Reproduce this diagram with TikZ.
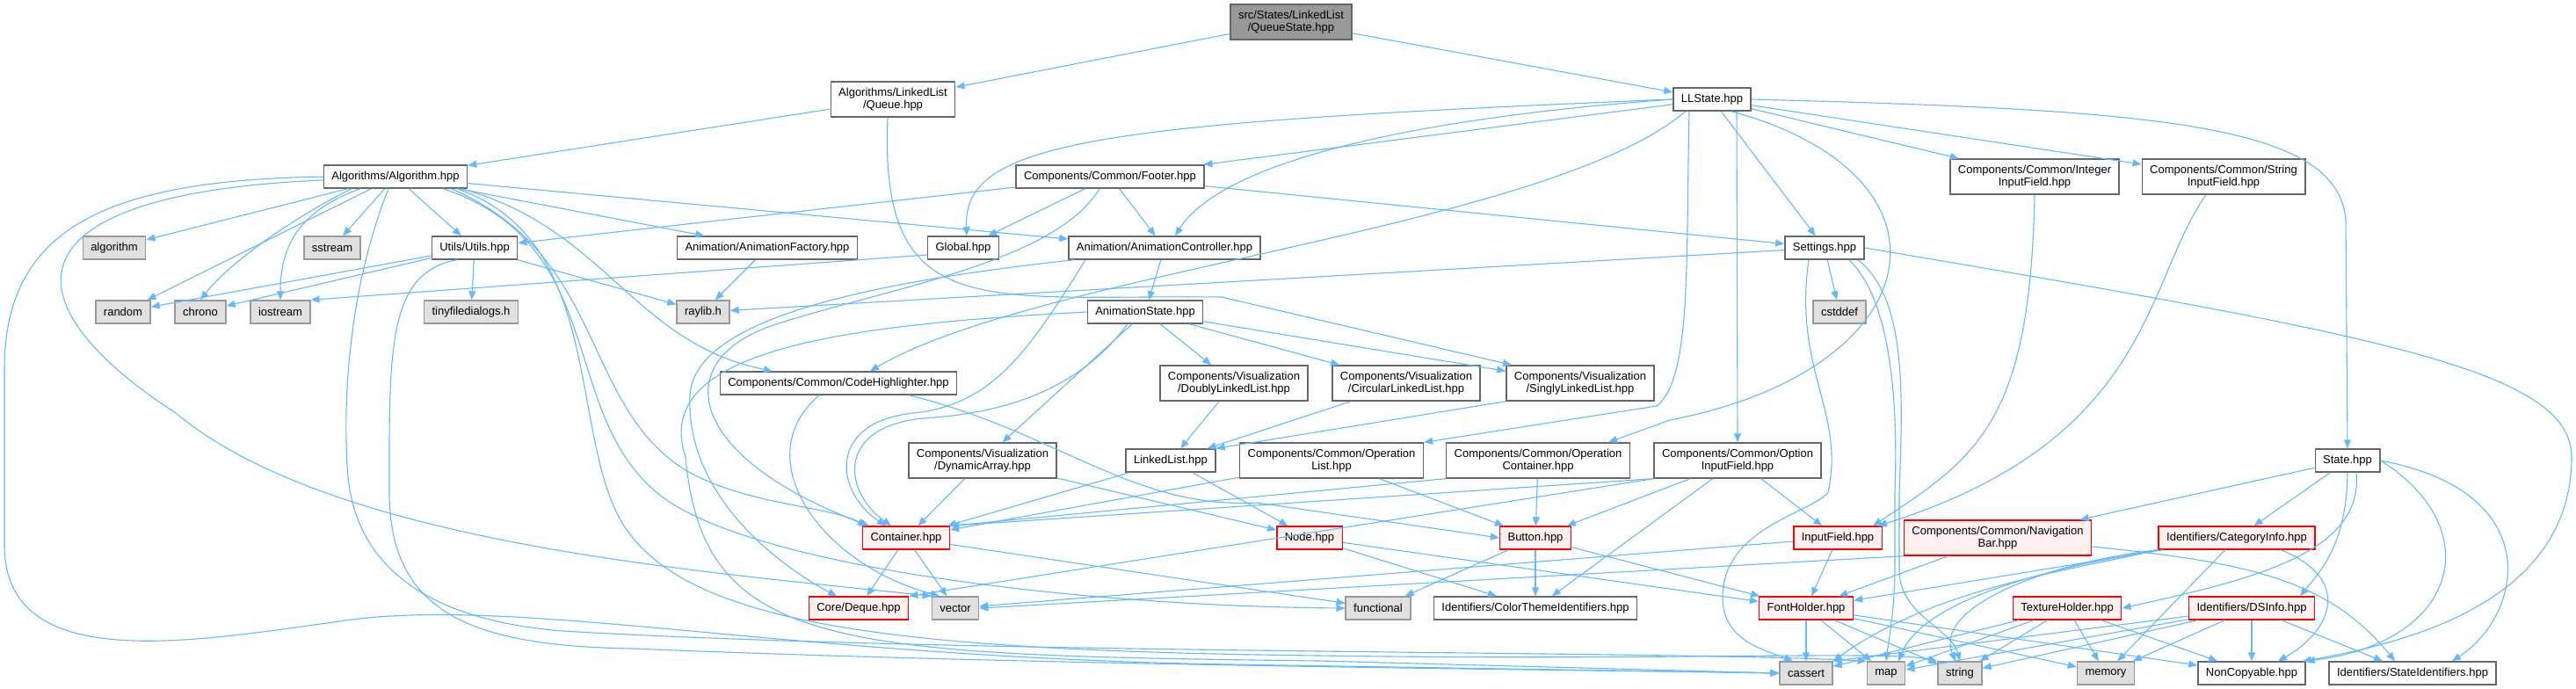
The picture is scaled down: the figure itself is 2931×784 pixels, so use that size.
\documentclass[tikz,border=0pt]{standalone}
\usepackage{fontspec}
\setmainfont{Liberation Sans}
\usetikzlibrary{calc,positioning}
\usetikzlibrary{arrows.meta}

\definecolor{edgeblue}{HTML}{63B8FF}
\definecolor{boxline}{HTML}{666666}
\definecolor{sysfill}{HTML}{E0E0E0}
\definecolor{sysline}{HTML}{999999}
\definecolor{rootfill}{HTML}{999999}
\definecolor{cutfill}{HTML}{FFF0F0}

\tikzset{
	hdr/.style={draw=boxline, line width=1.4pt, fill=white, inner xsep=9pt, inner ysep=3pt,
		minimum height=26pt, align=center, font=\fontsize{13}{14.5}\selectfont},
	syshdr/.style={hdr, draw=sysline, fill=sysfill},
	roothdr/.style={hdr, fill=rootfill},
	cuthdr/.style={hdr, draw=red, fill=cutfill},
	twoline/.style={minimum height=40pt},
	inc/.style={draw=edgeblue, line width=1.1pt, -{Triangle[length=10pt,width=8pt]}},
}

\begin{document}
\begin{tikzpicture}[x=1pt, y=-1pt]
				 \fill[white] (0,0) rectangle (2931,784);
				 \useasboundingbox (0,0) rectangle (2931,784);
				 % Drawing the nodes
				 \node[roothdr,twoline] (qs) at (1469,25) {src/States/LinkedList\\/QueueState.hpp};
				 \node[hdr,twoline] (queue) at (1016,113) {Algorithms/LinkedList\\/Queue.hpp};
				 \node[hdr] (llst) at (1948,113) {LLState.hpp};
				 \node[hdr] (algo) at (450,201) {Algorithms/Algorithm.hpp};
				 \node[hdr] (footer) at (1263,201) {Components/Common/Footer.hpp};
				 \node[hdr,twoline] (intif) at (2315,201) {Components/Common/Integer\\InputField.hpp};
				 \node[hdr,twoline] (strif) at (2530,201) {Components/Common/String\\InputField.hpp};
				 \node[syshdr] (algorithm) at (130,282) {algorithm};
				 \node[syshdr] (sstream) at (378,282) {sstream};
				 \node[hdr] (utils) at (540,282) {Utils/Utils.hpp};
				 \node[hdr] (animfac) at (873,282) {Animation/AnimationFactory.hpp};
				 \node[hdr] (global) at (1096,282) {Global.hpp};
				 \node[hdr] (animctrl) at (1325,282) {Animation/AnimationController.hpp};
				 \node[hdr] (settings) at (2076,282) {Settings.hpp};
				 \node[syshdr] (random) at (140,355) {random};
				 \node[syshdr] (chrono) at (228,355) {chrono};
				 \node[syshdr] (iostream) at (319,355) {iostream};
				 \node[syshdr] (tinyfd) at (536,355) {tinyfiledialogs.h};
				 \node[syshdr] (raylib) at (800,355) {raylib.h};
				 \node[syshdr] (cstddef) at (2093,355) {cstddef};
				 \node[hdr] (animstate) at (1303,355) {AnimationState.hpp};
				 \node[hdr] (codehl) at (954,436) {Components/Common/CodeHighlighter.hpp};
				 \node[hdr,twoline] (dll) at (1404,436) {Components/Visualization\\/DoublyLinkedList.hpp};
				 \node[hdr,twoline] (cll) at (1600,436) {Components/Visualization\\/CircularLinkedList.hpp};
				 \node[hdr,twoline] (sll) at (1798,436) {Components/Visualization\\/SinglyLinkedList.hpp};
				 \node[hdr,twoline] (dynarr) at (1118,524) {Components/Visualization\\/DynamicArray.hpp};
				 \node[hdr] (llist) at (1332,524) {LinkedList.hpp};
				 \node[hdr,twoline] (oplist) at (1515,524) {Components/Common/Operation\\List.hpp};
				 \node[hdr,twoline] (opcont) at (1750,524) {Components/Common/Operation\\Container.hpp};
				 \node[hdr,twoline] (optif) at (1977,524) {Components/Common/Option\\InputField.hpp};
				 \node[hdr] (state) at (2671,524) {State.hpp};
				 \node[cuthdr] (container) at (1031,612) {Container.hpp};
				 \node[cuthdr] (nodehpp) at (1490,612) {Node.hpp};
				 \node[cuthdr] (button) at (1747,612) {Button.hpp};
				 \node[cuthdr] (inputf) at (2091,612) {InputField.hpp};
				 \node[cuthdr,twoline] (navbar) at (2273,612) {Components/Common/Navigation\\Bar.hpp};
				 \node[cuthdr] (catinfo) at (2545,612) {Identifiers/CategoryInfo.hpp};
				 \node[cuthdr] (deque) at (977,692) {Core/Deque.hpp};
				 \node[syshdr] (vector) at (1087,692) {vector};
				 \node[syshdr] (functional) at (1568,692) {functional};
				 \node[hdr] (colors) at (1747,692) {Identifiers/ColorThemeIdentifiers.hpp};
				 \node[cuthdr] (fonts) at (2055,692) {FontHolder.hpp};
				 \node[cuthdr] (textures) at (2352,692) {TextureHolder.hpp};
				 \node[cuthdr] (dsinfo) at (2562,692) {Identifiers/DSInfo.hpp};
				 \node[syshdr] (cassert) at (2055,766) {cassert};
				 \node[syshdr] (map) at (2146,766) {map};
				 \node[syshdr] (string) at (2230,766) {string};
				 \node[syshdr] (memory) at (2396,766) {memory};
				 \node[hdr] (noncopy) at (2562,766) {NonCopyable.hpp};
				 \node[hdr] (stateids) at (2745,766) {Identifiers/StateIdentifiers.hpp};
				 % lines...
				 \draw[inc] (qs) -- (queue);
				 \draw[inc] (qs) -- (llst);
				 \draw[inc] (queue) -- (algo);
				 \draw[inc] ([xshift=-6pt]queue.south) .. controls (1000,370) and (1120,335) .. (1390,338) -- ([xshift=-78pt]sll.north);
				 % LLState
				 \draw[inc] (llst) -- (footer);
				 \draw[inc] (llst.west) .. controls (1250,140) and (1095,160) .. ([xshift=4pt]global.north);
				 \draw[inc] (llst.west) .. controls (1600,135) and (1390,185) .. ([xshift=12pt]animctrl.north);
				 \draw[inc] ([xshift=-30pt]llst.south) .. controls (1760,260) and (1180,310) .. ([xshift=36pt]codehl.north);
				 \draw[inc] (llst) -- (settings);
				 \draw[inc] (llst) -- (intif);
				 \draw[inc] (llst) -- (strif);
				 \draw[inc] (llst.east) .. controls (2450,125) and (2660,140) .. (2669,250) -- (state.north);
				 \draw[inc] ([xshift=-26pt]llst.south) .. controls (1918,300) and (1925,430) .. (1885,462) -- (oplist.north east);
				 \draw[inc] ([xshift=22pt]llst.south) .. controls (2240,200) and (2200,420) .. (1900,478) -- ([xshift=80pt]opcont.north);
				 \draw[inc] ([xshift=28pt]llst.south) -- (optif.north);
				 % Footer
				 \draw[inc] (footer) -- (utils);
				 \draw[inc] (footer) -- (global);
				 \draw[inc] (footer) -- (animctrl);
				 \draw[inc] (footer) -- (settings);
				 \draw[inc] ([xshift=-12pt]footer.south) .. controls (1200,300) and (1000,330) .. (880,370) .. controls (760,410) and (780,520) .. ([xshift=-42pt]container.north);
				 % Algorithm
				 \draw[inc] (algo) -- (algorithm);
				 \draw[inc] (algo) -- (sstream);
				 \draw[inc] (algo) -- (utils);
				 \draw[inc] (algo) -- (animfac);
				 \draw[inc] (algo) -- (random);
				 \draw[inc] ([xshift=-50pt]algo.south) .. controls (330,250) and (260,300) .. (chrono.north);
				 \draw[inc] ([xshift=-40pt]algo.south) .. controls (340,240) and (319,280) .. (iostream.north);
				 \draw[inc] (algo) -- (animctrl);
				 \draw[inc] ([xshift=75pt]algo.south) .. controls (690,260) and (720,390) .. ([xshift=-75pt]codehl.north);
				 \draw[inc] (algo.west) .. controls (120,205) and (5,260) .. (5,420) -- (5,620) .. controls (5,770) and (220,730) .. (400,705) .. controls (600,680) and (900,748) .. (1400,756) -- (cassert.west);
				 \draw[inc] ([yshift=-4pt]algo.west) .. controls (10,220) and (0,340) .. (200,470) .. controls (380,620) and (800,650) .. (vector.north west);
				 \draw[inc] ([xshift=63pt]algo.south) .. controls (690,290) and (660,460) .. (780,535) .. controls (850,575) and (940,575) .. ([xshift=-45pt]container.north);
				 \draw[inc] ([xshift=54pt]algo.south) .. controls (700,280) and (630,480) .. (760,570) .. controls (880,650) and (1250,690) .. (functional.west);
				 \draw[inc] ([xshift=-8pt]algo.south) .. controls (400,320) and (390,440) .. (395,530) .. controls (400,640) and (480,705) .. (640,718) .. controls (1100,745) and (1900,740) .. (map.north west);
				 \draw[inc] ([xshift=70pt]algo.south) .. controls (680,270) and (650,470) .. (700,580) .. controls (760,710) and (1000,740) .. (1500,746) .. controls (1900,752) and (2150,740) .. (string.north west);
				 % Utils and friends
				 \draw[inc] (utils) -- (random);
				 \draw[inc] (utils) -- (chrono);
				 \draw[inc] (utils) -- (tinyfd);
				 \draw[inc] (utils) -- (raylib);
				 \draw[inc] ([xshift=-20pt]utils.south) .. controls (440,310) and (443,400) .. (443,560) .. controls (443,700) and (540,735) .. (720,738) .. controls (1200,758) and (1800,762) .. (cassert.west);
				 \draw[inc] (animfac) -- (raylib);
				 \draw[inc] ([yshift=-8pt]global.west) -- (iostream.north east);
				 % Animation
				 \draw[inc] (animctrl) -- (animstate);
				 \draw[inc] ([xshift=-90pt]animctrl.south) .. controls (1170,400) and (1130,460) .. (1040,470) .. controls (940,480) and (950,560) .. ([xshift=-23pt]container.north);
				 \draw[inc] ([xshift=-103pt]animctrl.south) .. controls (1000,320) and (790,360) .. (785,450) .. controls (780,560) and (880,640) .. ([xshift=-25pt]deque.north);
				 \draw[inc] (animstate) -- (dll);
				 \draw[inc] (animstate) -- (cll);
				 \draw[inc] (animstate) -- (sll);
				 \draw[inc] (animstate) -- (dynarr);
				 \draw[inc] ([xshift=-20pt]animstate.south) .. controls (1230,440) and (1150,470) .. (1050,476) .. controls (950,486) and (960,560) .. ([xshift=-17pt]container.north);
				 \draw[inc] (animstate.west) .. controls (950,370) and (740,400) .. (780,520) .. controls (800,740) and (950,745) .. (1500,752) -- (cassert.west);
				 % Components
				 \draw[inc] ([xshift=-22pt]codehl.south) .. controls (850,520) and (930,640) .. ([xshift=-18pt]vector.north);
				 \draw[inc] ([xshift=80pt]codehl.south) .. controls (1200,490) and (1290,580) .. (1430,572) -- (button.west);
				 \draw[inc] (dll) -- (llist);
				 \draw[inc] (cll) -- (llist);
				 \draw[inc] (sll.south west) -- (llist.north east);
				 \draw[inc] (dynarr) -- (container);
				 \draw[inc] (dynarr) -- (nodehpp);
				 \draw[inc] (llist) -- (container);
				 \draw[inc] (llist) -- (nodehpp);
				 \draw[inc] (oplist) -- (container);
				 \draw[inc] (oplist) -- (button);
				 \draw[inc] (opcont.south west) -- (container.north east);
				 \draw[inc] (opcont) -- (button);
				 \draw[inc] (optif.south west) -- (container.north east);
				 \draw[inc] (optif.south west) -- (deque.north east);
				 \draw[inc] (optif) -- (button);
				 \draw[inc] (optif) -- (colors);
				 \draw[inc] (optif) -- (inputf);
				 \draw[inc] (intif.south) .. controls (2310,480) and (2250,520) .. ([xshift=40pt]inputf.north);
				 \draw[inc] ([xshift=-20pt]strif.south) .. controls (2440,320) and (2450,500) .. ([xshift=46pt]inputf.north);
				 % red ones
				 \draw[inc] (container) -- (deque);
				 \draw[inc] (container) -- (vector);
				 \draw[inc] (container) -- (functional);
				 \draw[inc] (nodehpp) -- (colors);
				 \draw[inc] (nodehpp) -- (fonts);
				 \draw[inc] (button) -- (functional);
				 \draw[inc] (button) -- (colors);
				 \draw[inc] (button) -- (fonts);
				 \draw[inc] (inputf) -- (fonts);
				 \draw[inc] (inputf) -- (vector);
				 \draw[inc] (navbar.south west) -- (vector.east);
				 \draw[inc] (navbar) -- (fonts);
				 \draw[inc] ([yshift=-10pt]navbar.east) .. controls (2560,640) and (2650,660) .. ([xshift=-20pt]stateids.north);
				 % State
				 \draw[inc] (state) -- (navbar);
				 \draw[inc] (state) -- (catinfo);
				 \draw[inc] ([xshift=10pt]state.south) .. controls (2690,630) and (2560,660) .. (textures.east);
				 \draw[inc] (state.south) .. controls (2670,620) and (2640,650) .. ([xshift=55pt]dsinfo.north);
				 \draw[inc] (state.east) .. controls (2830,600) and (2800,730) .. (noncopy.north east);
				 \draw[inc] (state.east) .. controls (2900,560) and (2870,700) .. ([xshift=45pt]stateids.north);
				 \draw[inc] (catinfo) -- (fonts);
				 \draw[inc] (catinfo.south west) .. controls (2350,650) and (2200,670) .. (cassert.north east);
				 \draw[inc] (catinfo.south west) .. controls (2340,645) and (2190,680) .. ([xshift=14pt]map.north);
				 \draw[inc] (catinfo.south west) .. controls (2330,640) and (2200,690) .. ([xshift=-5pt]string.north);
				 \draw[inc] (catinfo) -- (memory);
				 \draw[inc] ([xshift=50pt]catinfo.south) .. controls (2680,660) and (2650,720) .. ([xshift=30pt]noncopy.north);
				 % holders
				 \draw[inc] (fonts) -- (cassert);
				 \draw[inc] (fonts) -- (map);
				 \draw[inc] (fonts) -- (string);
				 \draw[inc] (fonts) -- (memory);
				 \draw[inc] (fonts) -- (noncopy);
				 \draw[inc] (textures) -- (cassert);
				 \draw[inc] (textures) -- (map);
				 \draw[inc] (textures) -- (string);
				 \draw[inc] (textures) -- (memory);
				 \draw[inc] (textures) -- (noncopy);
				 \draw[inc] (dsinfo) -- (cassert.north east);
				 \draw[inc] (dsinfo) -- (map);
				 \draw[inc] (dsinfo) -- (string);
				 \draw[inc] (dsinfo) -- (memory);
				 \draw[inc] (dsinfo) -- (noncopy);
				 \draw[inc] (dsinfo) -- (stateids);
				 % Settings
				 \draw[inc] (settings) -- (raylib);
				 \draw[inc] (settings) -- (cstddef);
				 \draw[inc] (settings.east) .. controls (2700,380) and (2926,420) .. (2926,520) .. controls (2926,680) and (2750,730) .. ([xshift=-4pt]noncopy.north east);
				 \draw[inc] ([xshift=-18pt]settings.south) .. controls (2040,420) and (2100,470) .. (2080,560) .. controls (2060,585) and (1960,600) .. (1960,680) .. controls (1960,730) and (2010,740) .. ([xshift=-15pt]cassert.north);
				 \draw[inc] ([xshift=28pt]settings.south) .. controls (2150,340) and (2160,450) .. (2156,560) -- (2156,650) .. controls (2155,700) and (2150,720) .. (map.north);
				 \draw[inc] ([xshift=38pt]settings.south) .. controls (2170,340) and (2165,450) .. (2161,560) -- (2161,650) .. controls (2162,700) and (2220,715) .. (string.north);
\end{tikzpicture}
\end{document}
